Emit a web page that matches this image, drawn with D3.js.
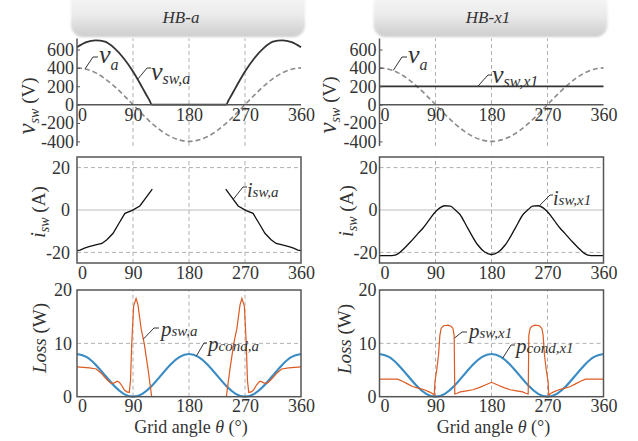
<!DOCTYPE html>
<html>
<head>
<meta charset="utf-8">
<script src="https://cdn.jsdelivr.net/npm/d3@7"></script>
<style>
  body { margin: 0; background: #fff; }
  svg { display: block; }
</style>
</head>
<body>
<svg id="chart" width="638" height="441"></svg>
<script>
// ---- data ----
const angleTicks = [0, 90, 180, 270, 360]
const voltTicks  = [-400, -200, 0, 200, 400, 600]
const currTicks  = [-20, 0, 20]
const lossTicks  = [0, 10, 20]
const gridAngles = [90, 180, 270]

// grid voltage v_a (same in both columns)
const vaTheta = [0,15,30,45,60,75,90,105,120,135,150,165,180,195,210,225,240,255,270,285,300,315,330,345,360]
const vaVals  = [400,386,346,283,200,104,0,-104,-200,-283,-346,-386,-400,-386,-346,-283,-200,-104,0,104,200,283,346,386,400]

// HB-a switch voltage
const vswATheta = [0,15,30,45,60,75,90,105,112,117,120,240,243,248,255,270,285,300,315,330,345,360]
const vswAVals  = [625,680,700,685,615,505,360,185,100,40,0,0,40,100,185,360,505,615,685,700,680,625]

// HB-x1 switch voltage
const vswX1Theta = [0, 360]
const vswX1Vals  = [200, 200]

// HB-a switch current (two conducting intervals)
const iswA1Theta = [0,5,12,18,30,40,48,58,67,77,88,101,110,121]
const iswA1Vals  = [-19.1,-18.9,-18,-17.4,-16.5,-15.8,-14,-11,-6.5,-1.6,-0.3,1.9,5.5,9.8]
const iswA2Theta = [239,250,259,272,283,293,302,312,320,330,342,348,355,360]
const iswA2Vals  = [9.8,5.5,1.9,-0.3,-1.6,-6.5,-11,-14,-15.8,-16.5,-17.4,-18,-18.9,-19.1]

// HB-x1 switch current
const iswX1Theta = [0,10,20,25,30,40,50,62,70,79,90,97,105,114,121,129,142,158,169,180,191,202,218,231,239,246,255,263,270,281,290,298,310,320,330,335,340,350,360]
const iswX1Vals  = [-21.5,-21.5,-21.5,-21.3,-20.6,-18,-15,-11,-8.5,-5,-0.8,1,2,1.8,0.2,-2,-8.7,-16.5,-19.8,-21,-19.8,-16.5,-8.7,-2,0.2,1.8,2,1,-0.8,-5,-8.5,-11,-15,-18,-20.6,-21.3,-21.5,-21.5,-21.5]

// conduction loss (same shape in both columns)
const pcondTheta = [0,15,30,45,60,75,90,105,120,135,150,165,180,195,210,225,240,255,270,285,300,315,330,345,360]
const pcondVals  = [8,7.46,6,4,2,0.54,0,0.54,2,4,6,7.46,8,7.46,6,4,2,0.54,0,0.54,2,4,6,7.46,8]

// HB-a switching loss
const pswA1Theta = [0,10,20,31,39,45,50,55,60,65,68,72,76,80,84,86,88,91,95,98,103,108,114,120]
const pswA1Vals  = [5.6,5.5,5.4,5.2,4.4,3.6,3,2.5,2.6,2.9,2.7,2.1,1.3,0.9,0.8,3,10,17,18.4,17.2,12.8,10,5.3,0]
const pswA2Theta = [240,246,252,257,262,265,269,272,274,276,280,284,288,292,295,300,305,310,315,321,329,340,350,360]
const pswA2Vals  = [0,5.3,10,12.8,17.2,18.4,17,10,3,0.8,0.9,1.3,2.1,2.7,2.9,2.6,2.5,3,3.6,4.4,5.2,5.4,5.5,5.6]

// HB-x1 switching loss
const pswX1Theta = [0,15,29,37,45,53,62,72,80,85,88,89,92,95,97,99,103,110,115,118,120,121,124,130,140,150,160,170,180,190,200,210,220,230,236,239,240,242,245,250,257,261,263,265,268,271,272,275,280,288,298,307,315,323,331,345,360]
const pswX1Vals  = [3.3,3.3,3.3,2.9,2.4,1.9,1.6,1.3,0.9,0.6,0.3,2.8,5,8,11.5,12.8,13.3,13.4,13.2,12.8,11.5,0.5,0.6,0.9,1.1,1.3,1.7,2.2,2.7,2.2,1.7,1.3,1.1,0.9,0.6,0.5,11.5,12.8,13.2,13.4,13.3,12.8,11.5,8,5,2.8,0.3,0.6,0.9,1.3,1.6,1.9,2.4,2.9,3.3,3.3,3.3]

// ---- look ----
const FONT   = '"Liberation Serif"'
const INK    = '#333'
const FRAME  = '#555'
const GRID   = '#b0b0b0'
const BLUE   = '#3b8cc4'
const ORANGE = '#dd5a22'

const svg = d3.select('#chart')

const defs = svg.append('defs')
const grad = defs.append('linearGradient').attr('id', 'hdr').attr('x1', 0).attr('y1', 0).attr('x2', 0).attr('y2', 1)
grad.append('stop').attr('offset', '0%').attr('stop-color', '#fbfbfb')
grad.append('stop').attr('offset', '55%').attr('stop-color', '#ececec')
grad.append('stop').attr('offset', '100%').attr('stop-color', '#cdcdcd')
defs.append('filter').attr('id', 'soft').append('feGaussianBlur').attr('stdDeviation', 1)

const columns = [
  { x0: 77,    x1: 301,   title: 'HB-a',  titleX: 181 },
  { x0: 379.5, x1: 603.5, title: 'HB-x1', titleX: 488 }
]

function richText(g, x, y, parts, transform){
  const t = g.append('text').attr('x', x).attr('y', y)
    .attr('fill', INK).style('font-family', FONT)
  if (transform) t.attr('transform', transform).attr('text-anchor', 'middle')
  parts.forEach(p => {
    t.append('tspan').text(p.t)
      .attr('font-size', p.s)
      .style('font-family', FONT)
      .attr('font-style', p.i ? 'italic' : 'normal')
      .attr('dy', p.dy || 0)
  })
  return t
}

function drawPanel(col, p){
  const x = d3.scaleLinear().domain([0, 360]).range([col.x0, col.x1])
  const y = d3.scaleLinear().domain(p.yDomain).range(p.yRange)
  const [yb, yt] = p.yRange
  const g = svg.append('g')

  // grid
  g.selectAll(null).data(gridAngles).join('line')
    .attr('x1', d => x(d)).attr('x2', d => x(d))
    .attr('y1', yb).attr('y2', yt)
    .attr('stroke', GRID).attr('stroke-dasharray', '4,3')
  g.selectAll(null).data(p.hGrid || []).join('line')
    .attr('x1', col.x0).attr('x2', col.x1)
    .attr('y1', d => y(d)).attr('y2', d => y(d))
    .attr('stroke', GRID).attr('stroke-dasharray', '4,3')
  if (p.zeroLine){
    g.append('line').attr('x1', col.x0).attr('x2', col.x1)
      .attr('y1', y(0)).attr('y2', y(0)).attr('stroke', '#bdbdbd').attr('stroke-width', 1.2)
  }

  // curves
  p.curves.forEach(c => {
    const line = d3.line().x(d => x(d[0])).y(d => y(d[1])).curve(c.curve || d3.curveLinear)
    g.append('path').datum(d3.zip(c.theta, c.values))
      .attr('d', line).attr('fill', 'none')
      .attr('stroke', c.color).attr('stroke-width', c.width)
      .attr('stroke-dasharray', c.dash || null)
  })

  // frame / axes
  if (p.boxed){
    g.append('rect').attr('x', col.x0).attr('y', yt)
      .attr('width', col.x1 - col.x0).attr('height', yb - yt)
      .attr('fill', 'none').attr('stroke', FRAME).attr('stroke-width', 1.5)
  } else {
    g.append('line').attr('x1', col.x0).attr('x2', col.x0).attr('y1', yb).attr('y2', yt)
      .attr('stroke', FRAME).attr('stroke-width', 1.5)
    g.append('line').attr('x1', col.x0).attr('x2', col.x1).attr('y1', y(0)).attr('y2', y(0))
      .attr('stroke', FRAME).attr('stroke-width', 1.5)
  }

  const yAxis = d3.axisLeft(y).tickValues(p.yTicks)
    .tickSize(p.boxed ? 0 : -3).tickPadding(p.yPad).tickFormat(d => String(d))
  const ya = g.append('g').attr('transform', `translate(${col.x0},0)`).call(yAxis)
  ya.attr('font-family', null)
  ya.select('.domain').remove()
  ya.selectAll('line').attr('stroke', FRAME)
  ya.selectAll('text').attr('font-size', 18).style('font-family', FONT).attr('fill', INK)

  const xAxis = d3.axisBottom(x).tickValues(angleTicks).tickSize(0).tickPadding(p.xPad)
  const xa = g.append('g').attr('transform', `translate(0,${p.boxed ? yb : y(0)})`).call(xAxis)
  xa.attr('font-family', null)
  xa.select('.domain').remove()
  xa.selectAll('text').attr('font-size', 18).style('font-family', FONT).attr('fill', INK)
    .filter(d => d === 0).attr('dx', 5)

  // axis title
  richText(g, 0, 0, p.yTitle, `translate(${p.yTitleAt[0]},${p.yTitleAt[1]}) rotate(-90)`)

  // annotations with leader lines
  p.notes.forEach(n => {
    const ax = x(n.at[0]), ay = y(n.at[1])
    g.append('polyline')
      .attr('points', [[ax, ay], n.elbow, [n.elbow[0] + n.run, n.elbow[1]]].map(q => q.join(',')).join(' '))
      .attr('fill', 'none').attr('stroke', INK).attr('stroke-width', 1)
    richText(g, n.text[0], n.text[1], n.parts)
  })
}

// headers
columns.forEach(col => {
  svg.append('rect').attr('x', col.x0 - 6).attr('y', -14)
    .attr('width', col.x1 - col.x0 + 10).attr('height', 51).attr('rx', 12)
    .attr('fill', 'url(#hdr)').attr('filter', 'url(#soft)')
  richText(svg, col.titleX, 23, [{ t: col.title, s: 17, i: 1 }]).attr('text-anchor', 'middle')
})

const vTitle = [{ t: 'v', s: 25, i: 1 }, { t: 'sw', s: 14, i: 1, dy: 4 }, { t: ' (V)', s: 19, dy: -4 }]
const iTitle = [{ t: 'i', s: 20, i: 1 }, { t: 'sw', s: 14, i: 1, dy: 4 }, { t: ' (A)', s: 19, dy: -4 }]
const lTitle = [{ t: 'Loss', s: 19, i: 1 }, { t: ' (W)', s: 19 }]
const sym = (main, sub, s1, s2, dy) => [{ t: main, s: s1, i: 1 }, { t: sub, s: s2, i: 1, dy: dy }]

const vaCurve    = { theta: vaTheta, values: vaVals, color: '#8c8c8c', width: 1.6, dash: '5,3', curve: d3.curveNatural }
const pcondCurve = { theta: pcondTheta, values: pcondVals, color: BLUE, width: 2.2, curve: d3.curveNatural }

// top row: switch voltage
drawPanel(columns[0], {
  yDomain: [-450, 720], yRange: [146, 38.5], yTicks: voltTicks, yPad: 3, xPad: 3.5,
  yTitle: vTitle, yTitleAt: [35, 106],
  curves: [vaCurve, { theta: vswATheta, values: vswAVals, color: '#333', width: 1.8, curve: d3.curveMonotoneX }],
  notes: [
    { at: [13, 390], elbow: [93, 57], run: 5, text: [99, 63], parts: sym('v', 'a', 26, 16, 7) },
    { at: [98, 280], elbow: [147, 68], run: 4, text: [151, 80], parts: sym('v', 'sw,a', 26, 16, 4) }
  ]
})
drawPanel(columns[1], {
  yDomain: [-450, 720], yRange: [146, 38.5], yTicks: voltTicks, yPad: 3, xPad: 3.5,
  yTitle: vTitle, yTitleAt: [336, 105],
  curves: [vaCurve, { theta: vswX1Theta, values: vswX1Vals, color: '#333', width: 1.8 }],
  notes: [
    { at: [22, 372], elbow: [402, 57], run: 5, text: [408, 63], parts: sym('v', 'a', 26, 16, 7) },
    { at: [158, 200], elbow: [488, 75], run: 4, text: [492, 83], parts: sym('v', 'sw,x1', 26, 16, 4) }
  ]
})

// middle row: switch current
drawPanel(columns[0], {
  yDomain: [-25, 25], yRange: [263, 157], yTicks: currTicks, yPad: 7, xPad: 3,
  boxed: true, hGrid: [-20, 20], zeroLine: true,
  yTitle: iTitle, yTitleAt: [45, 212],
  curves: [
    { theta: iswA1Theta, values: iswA1Vals, color: '#111', width: 1.3 },
    { theta: iswA2Theta, values: iswA2Vals, color: '#111', width: 1.3 }
  ],
  notes: [{ at: [251, 5], elbow: [243, 187], run: 4, text: [247, 197], parts: sym('i', 'sw,a', 20, 15, 0) }]
})
drawPanel(columns[1], {
  yDomain: [-25, 25], yRange: [263, 157], yTicks: currTicks, yPad: 2, xPad: 3,
  boxed: true, hGrid: [-20, 20], zeroLine: true,
  yTitle: iTitle, yTitleAt: [353, 211],
  curves: [{ theta: iswX1Theta, values: iswX1Vals, color: '#111', width: 1.3, curve: d3.curveMonotoneX }],
  notes: [{ at: [257, 2], elbow: [550, 195], run: 3, text: [553, 205], parts: sym('i', 'sw,x1', 20, 15, 0) }]
})

// bottom row: losses
drawPanel(columns[0], {
  yDomain: [0, 20], yRange: [396.7, 290], yTicks: lossTicks, yPad: 5, xPad: 3,
  boxed: true, hGrid: [10],
  yTitle: lTitle, yTitleAt: [46, 338],
  curves: [pcondCurve, { theta: pswA1Theta, values: pswA1Vals, color: ORANGE, width: 1.2 },
                       { theta: pswA2Theta, values: pswA2Vals, color: ORANGE, width: 1.2 }],
  notes: [
    { at: [106.6, 10.8], elbow: [154, 328], run: 5, text: [161, 336], parts: sym('p', 'sw,a', 21, 15, 0) },
    { at: [192, 7.65], elbow: [204, 343], run: 3, text: [208, 351], parts: sym('p', 'cond,a', 21, 15, 0) }
  ]
})
drawPanel(columns[1], {
  yDomain: [0, 20], yRange: [396.7, 290], yTicks: lossTicks, yPad: 3, xPad: 3,
  boxed: true, hGrid: [10],
  yTitle: lTitle, yTitleAt: [351, 339],
  curves: [pcondCurve, { theta: pswX1Theta, values: pswX1Vals, color: ORANGE, width: 1.2 }],
  notes: [
    { at: [120.6, 11], elbow: [462, 332], run: 5, text: [469, 338], parts: sym('p', 'sw,x1', 21, 15, 0) },
    { at: [198, 7.24], elbow: [511, 345], run: 4, text: [516, 353], parts: sym('p', 'cond,x1', 21, 15, 0) }
  ]
})

// x-axis titles
columns.forEach(col => {
  const cx = (col.x0 + col.x1) / 2 + 2
  richText(svg, cx, 433, [{ t: 'Grid angle ', s: 18 }, { t: 'θ', s: 18, i: 1 }, { t: ' (°)', s: 18 }])
    .attr('text-anchor', 'middle')
})
</script>
</body>
</html>
